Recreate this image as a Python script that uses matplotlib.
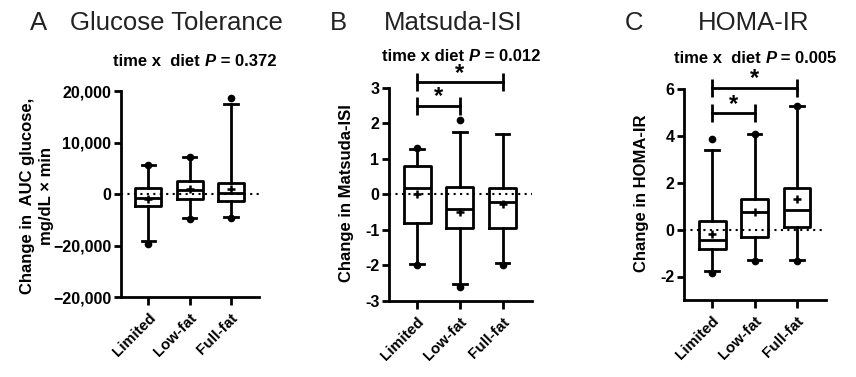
import matplotlib
matplotlib.use("Agg")
import matplotlib.pyplot as plt

plt.rcParams['font.family'] = ['Liberation Sans', 'DejaVu Sans']

categories = ["Limited", "Low-fat", "Full-fat"]

# Panel A: change in AUC glucose
a_whislo = [-9100, -4710, -4450]
a_q1 = [-2390, -970, -1420]
a_med = [-840, 770, 130]
a_q3 = [1230, 2580, 2130]
a_whishi = [5680, 7230, 17550]
a_mean = [-970, 970, 970]
a_points = [[5680, -9800], [7230, -4840], [18650, -4580]]
a_yticks = [-20000, -10000, 0, 10000, 20000]
a_yticklabels = ["\u221220,000", "\u221220,000", "0", "10,000", "20,000"]

# Panel B: change in Matsuda-ISI
b_whislo = [-1.97, -2.53, -1.94]
b_q1 = [-0.80, -0.95, -0.96]
b_med = [0.17, -0.40, -0.21]
b_q3 = [0.81, 0.22, 0.17]
b_whishi = [1.27, 1.74, 1.69]
b_mean = [0.0, -0.49, -0.27]
b_points = [[1.31, -2.0], [2.09, -2.61], [-2.0]]
b_yticks = [-3, -2, -1, 0, 1, 2, 3]
b_yticklabels = ["-3", "-2", "-1", "0", "1", "2", "3"]

# Panel C: change in HOMA-IR
c_whislo = [-1.77, -1.30, -1.30]
c_q1 = [-0.84, -0.33, 0.10]
c_med = [-0.43, 0.75, 0.83]
c_q3 = [0.37, 1.30, 1.79]
c_whishi = [3.42, 4.10, 5.28]
c_mean = [-0.19, 0.74, 1.30]
c_points = [[3.86, -1.84], [4.07, -1.34], [5.28, -1.35]]
c_yticks = [-2, 0, 2, 4, 6]
c_yticklabels = ["-2", "0", "2", "4", "6"]

LW = 2.0
fig = plt.figure(figsize=(8.56, 3.77), dpi=100)

W, H = 856.0, 377.0
def ax_rect(l, r, b, t):
    return [l / W, 1 - b / H, (r - l) / W, (b - t) / H]

axA = fig.add_axes(ax_rect(121, 259, 297, 91))
axB = fig.add_axes(ax_rect(389, 531.7, 301, 87.7))
axC = fig.add_axes(ax_rect(684.3, 825.7, 299.9, 89.3))


def draw_panel(ax, whislo, q1, med, q3, whishi, mean, points, ylim, yticks, yticklabels):
    stats = []
    for i in range(len(categories)):
        stats.append(dict(med=med[i], q1=q1[i], q3=q3[i], whislo=whislo[i],
                          whishi=whishi[i], mean=mean[i], fliers=[]))
    pos = list(range(len(categories)))
    ax.bxp(stats, positions=pos, widths=0.63, capwidths=0.32, showmeans=True,
           showfliers=False,
           boxprops=dict(color='black', linewidth=LW),
           medianprops=dict(color='black', linewidth=LW),
           whiskerprops=dict(color='black', linewidth=LW),
           capprops=dict(color='black', linewidth=LW),
           meanprops=dict(marker='+', markeredgecolor='black', markersize=6,
                          markeredgewidth=1.8), zorder=3)
    for i, pts in enumerate(points):
        ax.plot([i] * len(pts), pts, 'o', color='black', markersize=4.5, zorder=4,
                clip_on=False)
    ax.axhline(0, color='black', linestyle=(0, (1, 2.1)), linewidth=1.5, zorder=1)
    ax.set_xlim(-0.66, 2.68)
    ax.set_ylim(*ylim)
    ax.set_yticks(yticks)
    ax.set_yticklabels(yticklabels, fontsize=11.5, fontweight='bold')
    ax.set_xticks(pos)
    ax.set_xticklabels(categories, rotation=45, ha='right', rotation_mode='anchor',
                       fontsize=11, fontweight='bold')
    for s in ['top', 'right']:
        ax.spines[s].set_visible(False)
    for s in ['left', 'bottom']:
        ax.spines[s].set_linewidth(LW)
    ax.tick_params(axis='both', width=LW, length=5, pad=2)
    ax.tick_params(axis='x', length=6, pad=4)
    ax.patch.set_alpha(0)


draw_panel(axA, a_whislo, a_q1, a_med, a_q3, a_whishi, a_mean, a_points,
           (-20000, 20000), a_yticks, a_yticklabels)
draw_panel(axB, b_whislo, b_q1, b_med, b_q3, b_whishi, b_mean, b_points,
           (-3, 3), b_yticks, b_yticklabels)
draw_panel(axC, c_whislo, c_q1, c_med, c_q3, c_whishi, c_mean, c_points,
           (-3, 6), c_yticks, c_yticklabels)


def bracket(ax, x0, x1, y, ystar):
    ax.plot([x0, x1], [y, y], color='black', linewidth=LW, clip_on=False)
    ax.plot([x0, x1], [y, y], linestyle='none', marker='|', markersize=13,
            markeredgewidth=LW, color='black', clip_on=False)
    ax.text((x0 + x1) / 2, ystar, '*', ha='center', va='center', fontsize=17,
            fontweight='bold', clip_on=False)


bracket(axB, 0, 2, 3.17, 3.40)
bracket(axB, 0, 1, 2.48, 2.75)
bracket(axC, 0, 2, 6.07, 6.47)
bracket(axC, 0, 1, 4.97, 5.37)

# Panel titles
title_color = '#222222'
for letter, lx, name, nx in [("A", 30, "Glucose Tolerance", 70),
                             ("B", 330, "Matsuda-ISI", 384),
                             ("C", 625, "HOMA-IR", 698)]:
    fig.text(lx / W, 1 - 30 / H, letter, fontsize=18.5, color=title_color,
             ha='left', va='baseline')
    fig.text(nx / W, 1 - 30 / H, name, fontsize=18.5, color=title_color,
             ha='left', va='baseline')


def subtitle(x, y, part1, pval):
    t1 = fig.text(x / W, 1 - y / H, part1, fontsize=12, fontweight='bold',
                  ha='left', va='baseline')
    ann = axA.annotate("P", xy=(1, 0), xycoords=t1, ha='left', va='bottom',
                       fontsize=12, fontweight='bold', style='italic',
                       annotation_clip=False)
    axA.annotate(" = " + pval, xy=(1, 0), xycoords=ann, ha='left', va='bottom',
                 fontsize=12, fontweight='bold', annotation_clip=False)


subtitle(113, 66, "time x  diet ", "0.372")
subtitle(382, 61, "time x diet ", "0.012")
subtitle(674, 63, "time x  diet ", "0.005")

# Y labels
fig.text(28 / W, 1 - 196 / H, "Change in  AUC glucose,", rotation=90, ha='center',
         va='center', fontsize=12, fontweight='bold')
fig.text(47 / W, 1 - 196 / H, "mg/dL \u00d7 min", rotation=90, ha='center',
         va='center', fontsize=12, fontweight='bold')
fig.text(347 / W, 1 - 193 / H, "Change in Matsuda-ISI", rotation=90, ha='center',
         va='center', fontsize=12, fontweight='bold')
fig.text(641.7 / W, 1 - 193 / H, "Change in HOMA-IR", rotation=90, ha='center',
         va='center', fontsize=12, fontweight='bold')

fig.savefig("out.png", dpi=100)
